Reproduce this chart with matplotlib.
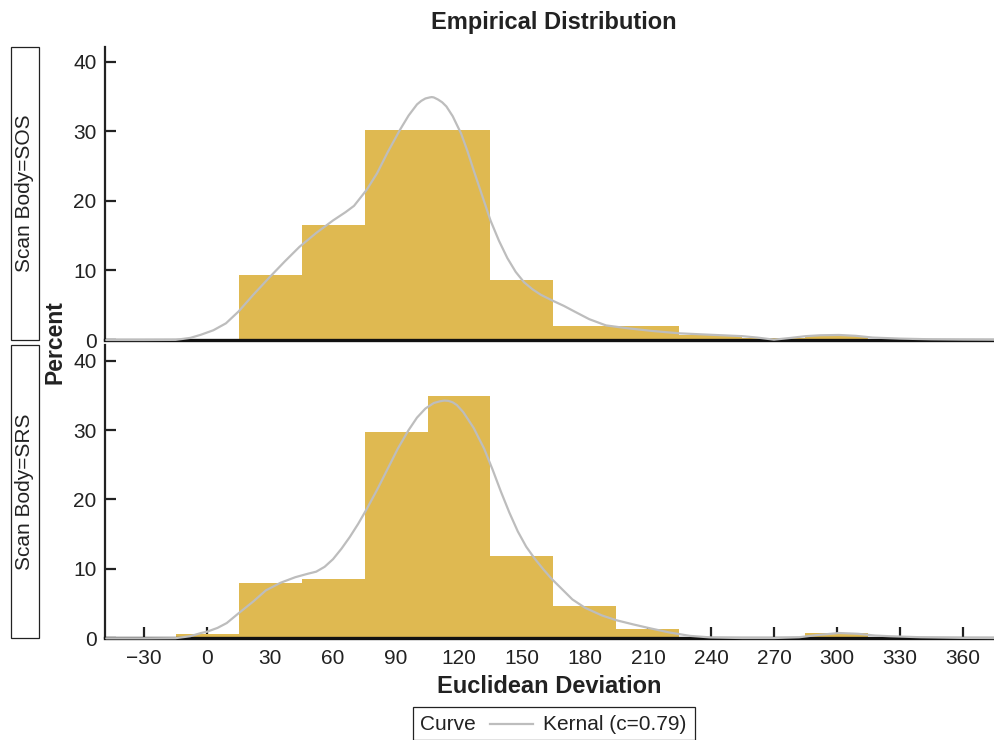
import matplotlib
matplotlib.use("Agg")
import matplotlib.pyplot as plt
from matplotlib.patches import Rectangle
from matplotlib.lines import Line2D

plt.rcParams['font.family'] = ['Liberation Sans', 'DejaVu Sans']

# histogram bins (midpoints, width 30) and percents
bin_mid = [0, 30, 60, 90, 120, 150, 180, 210, 240, 270, 300]
sos_pct = [0, 9.3, 16.5, 30.2, 30.2, 8.6, 2.0, 2.0, 0.7, 0.3, 0.6]
srs_pct = [0.6, 8.0, 8.6, 29.7, 34.9, 11.9, 4.65, 1.34, 0, 0, 0.72]

# kernel density curves
sos_kx = [-48, -30, -15, -8, -3, 3, 9, 15, 22, 30, 37, 44, 52, 60, 66, 70, 76, 81,
          86, 92, 96, 100, 102, 104, 106, 107, 108, 110, 112, 114, 117, 121, 124,
          127, 131, 135, 139, 143, 147, 151, 155, 159, 165, 170, 175, 182, 190,
          200, 212, 225, 240, 255, 262, 270, 278, 285, 292, 301, 309, 317, 330,
          345, 360, 375]
sos_ky = [0, 0, 0.02, 0.3, 0.75, 1.4, 2.4, 4.1, 6.5, 9.1, 11.3, 13.4, 15.4, 17.2,
          18.4, 19.3, 21.6, 24.0, 27.0, 30.3, 32.3, 33.9, 34.4, 34.75, 34.9, 34.95,
          34.9, 34.6, 34.2, 33.6, 32.2, 29.7, 27.2, 24.4, 20.8, 17.2, 14.3, 11.8,
          9.8, 8.3, 7.3, 6.5, 5.6, 4.9, 4.1, 3.0, 2.1, 1.7, 1.3, 0.96, 0.75, 0.55,
          0.35, 0.05, 0.3, 0.55, 0.68, 0.72, 0.6, 0.35, 0.2, 0.1, 0.06, 0.04]
srs_kx = [-48, -30, -15, -8, -3, 0, 5, 9.4, 15, 22, 28, 35, 42, 48, 52, 56, 60, 64,
          68, 72, 76, 81, 86, 91, 96, 100, 104, 108, 111, 113, 115, 117, 119, 122,
          127, 132, 136, 140, 144, 148, 152, 156, 160, 164, 168, 174, 180, 188,
          195, 203, 211, 220, 230, 240, 255, 270, 282, 290, 301, 310, 318, 325,
          340, 360, 375]
srs_ky = [0, 0, 0.02, 0.3, 0.75, 0.95, 1.5, 2.2, 3.6, 5.3, 6.9, 8.0, 8.8, 9.3, 9.6,
          10.3, 11.4, 12.9, 14.6, 16.5, 18.6, 21.4, 24.4, 27.4, 30.0, 31.8, 33.1,
          33.9, 34.15, 34.25, 34.2, 34.0, 33.6, 32.6, 30.3, 27.3, 24.3, 21.1, 18.1,
          15.4, 13.2, 11.5, 10.0, 8.6, 7.4, 5.6, 4.4, 3.3, 2.6, 2.0, 1.44, 0.85,
          0.35, 0.12, 0.04, 0.04, 0.15, 0.45, 0.76, 0.65, 0.4, 0.3, 0.15, 0.06,
          0.04]

panels = [('Scan Body=SOS', sos_pct, sos_kx, sos_ky),
          ('Scan Body=SRS', srs_pct, srs_kx, srs_ky)]
x_ticks = list(range(-30, 361, 30))
y_ticks = [0, 10, 20, 30, 40]

bar_color = '#dfb951'
curve_color = '#bdbdbd'
ink = '#222222'
W, H = 994, 740

fig = plt.figure(figsize=(W / 100, H / 100), dpi=100)
boxes = [(46.7, 340.0), (345.4, 638.3)]  # top, bottom in pixels

for i, (name, pct, kx, ky) in enumerate(panels):
    top, bot = boxes[i]
    ax = fig.add_axes([105 / W, 1 - bot / H, (W - 105) / W, (bot - top) / H])
    ax.bar(bin_mid, pct, width=30, color=bar_color, zorder=2)
    ax.plot(kx, ky, color=curve_color, lw=1.6, zorder=5, solid_capstyle='round',
            solid_joinstyle='round', clip_on=False)
    ax.set_xlim(-48.6, 374.8)
    ax.set_ylim(0, 42.2)
    for s in ['top', 'right']:
        ax.spines[s].set_visible(False)
    ax.spines['left'].set_linewidth(1.6)
    ax.spines['left'].set_color(ink)
    ax.spines['bottom'].set_linewidth(2.4)
    ax.spines['bottom'].set_color('#111111')
    ax.spines['bottom'].set_zorder(4)
    ax.set_yticks(y_ticks)
    ax.tick_params(axis='y', direction='in', length=8, width=1.6, color=ink,
                   labelsize=15, pad=6, labelcolor=ink)
    if i == 0:
        ax.set_xticks([])
    else:
        ax.set_xticks(x_ticks)
        ax.tick_params(axis='x', direction='in', length=8, width=1.6, color=ink,
                       labelsize=15, pad=8, labelcolor=ink)
        ax.set_xlabel('Euclidean Deviation', fontsize=17, fontweight='bold',
                      labelpad=5, color=ink)
    ax.patch.set_alpha(0)

    # row header box
    fig.patches.append(Rectangle((10.5 / W, 1 - bot / H), 28.5 / W, (bot - top) / H,
                                 transform=fig.transFigure, fill=False,
                                 edgecolor=ink, lw=0.9))
    fig.text(24.8 / W, 1 - (top + bot) / 2 / H, name, rotation=90, ha='center',
             va='center', fontsize=15, color=ink)

fig.text(554 / W, 1 - 22 / H, 'Empirical Distribution', ha='center', va='center',
         fontsize=17, fontweight='bold', color=ink)
fig.text(55 / W, 1 - 342 / H, 'Percent', rotation=90, ha='center', va='center',
         fontsize=16.5, fontweight='bold', color=ink)

# legend box
fig.patches.append(Rectangle((413 / W, 0), 282 / W, 33 / H, transform=fig.transFigure,
                             fill=False, edgecolor=ink, lw=0.9))
fig.text(420 / W, 1 - 724 / H, 'Curve', ha='left', va='center', fontsize=15,
         color=ink)
fig.lines.append(Line2D([490 / W, 533 / W], [1 - 724 / H, 1 - 724 / H],
                        transform=fig.transFigure, color=curve_color, lw=1.6))
fig.text(543 / W, 1 - 724 / H, 'Kernal (c=0.79)', ha='left', va='center',
         fontsize=15, color=ink)

fig.savefig('out.png', dpi=100)
